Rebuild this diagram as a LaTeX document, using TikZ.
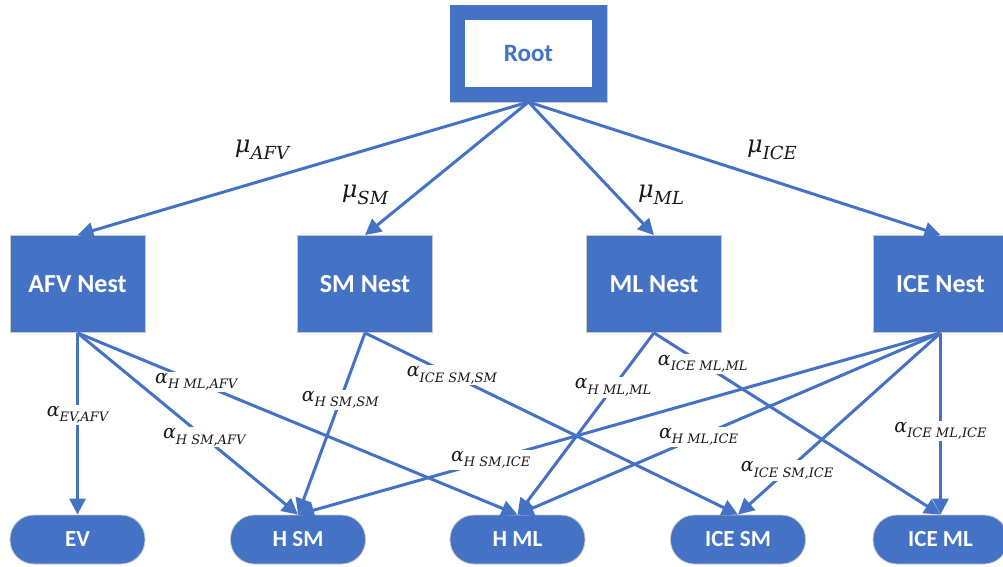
\documentclass[tikz,border=0pt]{standalone}
\usepackage{fontspec}
\newfontfamily\cf{Carlito}
\newfontfamily\dvs{DejaVu Serif}[ItalicFont={DejaVu Serif Italic}]
\newcommand\glab[4]{{\dvs\itshape\fontsize{#3}{#3}\selectfont #1\raisebox{-0.28em}{\fontsize{#4}{#4}\selectfont #2}}}
\usetikzlibrary{arrows.meta}
\definecolor{nblue}{HTML}{4472C4}
\definecolor{edgegray}{HTML}{C9C9C9}
\definecolor{labtext}{HTML}{1A1A1A}
\begin{document}
\begin{tikzpicture}[x=1pt,y=-1pt,
  nest/.style={draw=edgegray, line width=0.8pt, fill=nblue, minimum width=135pt, minimum height=97pt, inner sep=0pt, text=white, font=\cf\bfseries\fontsize{26}{30}\selectfont},
  leaf/.style={draw=edgegray, line width=0.8pt, fill=nblue, rounded corners=24pt, minimum width=135pt, minimum height=49pt, inner sep=0pt, text=white, font=\cf\bfseries\fontsize{23}{27}\selectfont},
  arr/.style={draw=nblue, line width=3pt, -{Triangle[length=16pt,width=16pt]}},
  lbl/.style={fill=white, inner sep=1.5pt, text=labtext},
  mu/.style={text=labtext}]
\useasboundingbox (0,0) rectangle (1003,566);
% root
\draw[edgegray, line width=0.8pt] (450,5) rectangle (607,102);
\node[draw=nblue, line width=15pt, fill=white, minimum width=142pt, minimum height=82pt, inner sep=0pt, text=nblue, font=\cf\bfseries\fontsize{25}{30}\selectfont] (root) at (528.5,53.5) {Root};
% nests
\node[nest] (afv) at (77.5,284) {AFV Nest};
\node[nest] (sm) at (365,284) {SM Nest};
\node[nest] (ml) at (654,284) {ML Nest};
\node[nest] (ice) at (940.5,284) {ICE Nest};
% leaves
\node[leaf] (ev) at (77.5,539.5) {EV};
\node[leaf] (hsm) at (298,539.5) {H SM};
\node[leaf] (hml) at (517.5,539.5) {H ML};
\node[leaf] (icesm) at (738,539.5) {ICE SM};
\node[leaf] (iceml) at (940.5,539.5) {ICE ML};
% root edges
\draw[arr] (root.south) -- (afv.north);
\draw[arr] (root.south) -- (sm.north);
\draw[arr] (root.south) -- (ml.north);
\draw[arr] (root.south) -- (ice.north);
\node[mu] (muafv) at (262,150) {\glab{μ}{AFV}{24}{18}};
\node[mu] (musm) at (365,195) {\glab{μ}{SM}{24}{18}};
\node[mu] (muml) at (661,195) {\glab{μ}{ML}{24}{18}};
\node[mu] (muice) at (772,150) {\glab{μ}{ICE}{24}{18}};
% lower edges
\draw[arr] (afv.south) -- node[lbl, pos=0.45] (l1) {\glab{α}{EV,AFV}{19}{13}} (ev.north);
\draw[arr] (afv.south) -- node[lbl, pos=0.27] (l2) {\glab{α}{H ML,AFV}{19}{13}} (hml.north);
\draw[arr] (afv.south) -- node[lbl, pos=0.575] (l3) {\glab{α}{H SM,AFV}{19}{13}} (hsm.north);
\draw[arr] (sm.south) -- node[lbl, pos=0.37] (l4) {\glab{α}{H SM,SM}{19}{13}} (hsm.north);
\draw[arr] (sm.south) -- node[lbl, pos=0.233] (l5) {\glab{α}{ICE SM,SM}{19}{13}} (icesm.north);
\draw[arr] (ml.south) -- node[lbl, pos=0.3] (l6) {\glab{α}{H ML,ML}{19}{13}} (hml.north);
\draw[arr] (ml.south) -- node[lbl, pos=0.17] (l7) {\glab{α}{ICE ML,ML}{19}{13}} (iceml.north);
\draw[arr] (ice.south) -- node[lbl, pos=0.70] (l8) {\glab{α}{H SM,ICE}{19}{13}} (hsm.north);
\draw[arr] (ice.south) -- node[lbl, pos=0.572] (l9) {\glab{α}{H ML,ICE}{19}{13}} (hml.north);
\draw[arr] (ice.south) -- node[lbl, pos=0.757] (l10) {\glab{α}{ICE SM,ICE}{19}{13}} (icesm.north);
\draw[arr] (ice.south) -- node[lbl, pos=0.54] (l11) {\glab{α}{ICE ML,ICE}{19}{13}} (iceml.north);
\end{tikzpicture}
\end{document}
